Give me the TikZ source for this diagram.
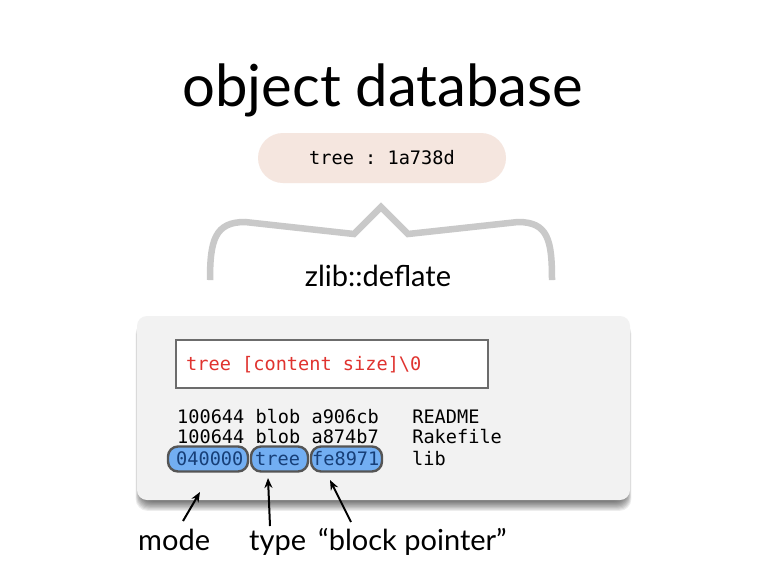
\documentclass[tikz,border=0pt]{standalone}
\usepackage{fontspec}
\setmainfont{Lato}
\setmonofont{DejaVu Sans Mono}
\usetikzlibrary{arrows.meta}
\definecolor{pill}{HTML}{F5E6DF}
\definecolor{brace}{HTML}{C9C9C9}
\definecolor{panel}{HTML}{F2F2F2}
\definecolor{redtxt}{HTML}{E0332F}
\definecolor{bluefill}{HTML}{72AEF2}
\definecolor{bluetxt}{HTML}{173F78}
\definecolor{pilledge}{HTML}{555555}
\tikzset{
  mono/.style={font=\fontsize{18.6}{20}\selectfont\ttfamily, inner sep=0pt, anchor=base west},
  hl/.style={draw=pilledge, line width=2.4pt, fill=bluefill, rounded corners=10pt},
  ptr/.style={-{Stealth[length=10pt,width=8pt]}, line width=2pt, black},
  lbl/.style={font=\fontsize{29}{30}\selectfont, inner sep=0pt, anchor=base west}
}
\begin{document}
\begin{tikzpicture}[x=1pt,y=-1pt]
\useasboundingbox (0,0) rectangle (768,574);
\fill[white] (0,0) rectangle (768,574);
% title
\node[font=\fontsize{58}{60}\selectfont, inner sep=0pt] (title) at (383,90) {object database};
% pill
\node[fill=pill, rounded corners=25pt, minimum width=248pt, minimum height=50pt, inner sep=0pt] (obj) at (382,158) {};
\node[mono, anchor=center] (objtxt) at (obj.center) {tree : 1a738d};
% brace
\draw[brace, line width=6.5pt, line join=miter, line cap=butt]
  (210,280) .. controls (210,240) and (215,222) .. (245,222)
  -- (354,234) -- (381,207) -- (408,234) -- (518,222)
  .. controls (548,222) and (552,240) .. (552,280);
\node[font=\fontsize{29}{30}\selectfont, inner sep=0pt] (zlib) at (378,276) {zlib::deflate};
% panel shadow (soft)
\foreach \d in {0,...,9}{
  \fill[black, opacity=0.07, rounded corners=12pt] (141-\d*0.6,322) rectangle (626+\d*0.6,501+\d*1.1);
}
\fill[panel, rounded corners=10pt] (137,316) rectangle (630,500);
\node[draw=gray!85!black, line width=1.8pt, fill=white, minimum width=312pt, minimum height=48pt, inner sep=0pt] (hdr) at (332,364) {};
\node[mono, text=redtxt] (hdrtxt) at (186,370) {tree [content size]\textbackslash 0};
% pills
\node[hl, minimum width=80pt, minimum height=25pt, inner sep=0pt] (mode) at (208,459) {};
\node[hl, minimum width=57pt, minimum height=25pt, inner sep=0pt] (type) at (279.5,459) {};
\node[hl, minimum width=71pt, minimum height=25pt, inner sep=0pt] (ptr) at (346.5,459) {};
% text lines
\node[mono] (l1) at (177,423) {100644 blob a906cb\ \ \ README};
\node[mono] (l2) at (177,443) {100644 blob a874b7\ \ \ Rakefile};
\node[mono, text=bluetxt] (l3a) at (176,465) {040000};
\node[mono, text=bluetxt] (l3b) at (255,465) {tree};
\node[mono, text=bluetxt] (l3c) at (312,465) {fe8971};
\node[mono] (l3d) at (412,465) {lib};
% labels
\node[lbl] (lmode) at (138,550) {mode};
\node[lbl] (ltype) at (249,550) {type};
\node[lbl] (lptr) at (318,550) {“block pointer”};
\coordinate (amode) at (200,492);
\coordinate (atype) at (268,478);
\coordinate (aptr) at (330,480);
\draw[ptr] (183,521) -- (amode);
\draw[ptr] (270,526) -- (atype);
\draw[ptr] (351,522) -- (aptr);
\end{tikzpicture}
\end{document}
